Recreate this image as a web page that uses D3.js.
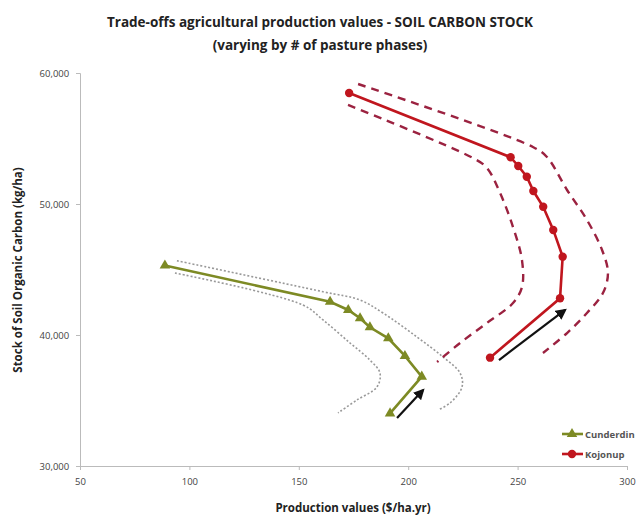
<!DOCTYPE html>
<html><head><meta charset="utf-8">
<script src="https://cdn.jsdelivr.net/npm/d3@7"></script>
<style>body{margin:0;background:#fff}svg{display:block}</style>
</head><body>
<script>
// ---- data ----
const seriesNames = ["Cunderdin", "Kojonup"];
const cunderdinX = [88.8, 164.3, 172.6, 178.0, 182.5, 190.9, 198.5, 206.2, 191.7];
const cunderdinY = [45300, 42540, 41910, 41280, 40590, 39750, 38400, 36820, 34020];
const kojonupX = [173, 246.8, 250.3, 254.2, 257.2, 261.7, 266.3, 270.6, 269.4, 237.4];
const kojonupY = [58470, 53570, 52900, 52080, 50990, 49790, 48020, 45980, 42800, 38270];
// hand-drawn range annotations
const kojOuterX = [177.1, 257.0, 263.4, 272.6, 281.7, 288.6, 291.3, 289.0, 281.7, 272.6, 261.6];
const kojOuterY = [59160, 54350, 53590, 51070, 48780, 46490, 44730, 43200, 41680, 40150, 38630];
const kojInnerX = [172.5, 229.6, 236.0, 242.0, 247.9, 252.0, 252.0, 247.9, 236.0, 223.7, 213.2];
const kojInnerY = [57560, 53510, 52750, 50840, 48240, 45720, 43660, 42440, 40920, 39390, 37940];
const cunOuterX = [94.3, 161.1, 178.0, 188.5, 204.0, 215.9, 223.7, 224.6, 219.1, 213.6];
const cunOuterY = [45670, 43300, 42670, 41680, 39850, 38320, 37100, 36030, 34810, 34280];
const cunInnerX = [93.4, 151.9, 161.1, 173.4, 182.5, 187.1, 185.7, 176.6, 167.9];
const cunInnerY = [44730, 42290, 41150, 39390, 38090, 37100, 36030, 35040, 34050];
const arrowCun = [[194.9, 33660], [206.8, 35800]];
const arrowKoj = [[241.5, 38090], [271.7, 41910]];
const xTicks = [50, 100, 150, 200, 250, 300];
const yTicks = [30000, 40000, 50000, 60000];

const W = 640, H = 524;
const svg = d3.select("body").append("svg").attr("width", W).attr("height", H);
const FONT = "'Open Sans', sans-serif";

const x = d3.scaleLinear().domain([50, 300]).range([80, 627]);
const y = d3.scaleLinear().domain([30000, 60000]).range([466, 73]);

// titles
svg.append("text").attr("x", 320).attr("y", 27).attr("text-anchor", "middle")
  .attr("font-family", FONT).attr("font-weight", "bold").attr("font-size", 13.5).attr("fill", "#222")
  .text("Trade-offs agricultural production values - SOIL CARBON STOCK");
svg.append("text").attr("x", 320).attr("y", 50).attr("text-anchor", "middle")
  .attr("font-family", FONT).attr("font-weight", "bold").attr("font-size", 13.5).attr("fill", "#222")
  .text("(varying by # of pasture phases)");

// axes
const xAxis = svg.append("g").attr("transform", `translate(0,${y(30000)})`)
  .call(d3.axisBottom(x).tickValues(xTicks).tickSize(4).tickFormat(d3.format("d")));
const yAxis = svg.append("g").attr("transform", `translate(${x(50)},0)`)
  .call(d3.axisLeft(y).tickValues(yTicks).tickSize(4).tickFormat(d3.format(",")));
[xAxis, yAxis].forEach(g => {
  g.select(".domain").attr("stroke", "#bbb");
  g.selectAll(".tick line").attr("stroke", "#bbb");
  g.selectAll(".tick text").attr("font-family", FONT).attr("font-size", 9.5).attr("fill", "#444");
});
xAxis.selectAll(".tick text").attr("dy", "1.3em");
yAxis.selectAll(".tick text").attr("dx", "-0.4em");

svg.append("text").attr("x", 353).attr("y", 512).attr("text-anchor", "middle")
  .attr("font-family", FONT).attr("font-weight", "bold").attr("font-size", 11.5).attr("fill", "#222")
  .text("Production values ($/ha.yr)");
svg.append("text").attr("transform", "translate(22,270) rotate(-90)").attr("text-anchor", "middle")
  .attr("font-family", FONT).attr("font-weight", "bold").attr("font-size", 11.5).attr("fill", "#222")
  .text("Stock of Soil Organic Carbon  (kg/ha)");

const zip = (a, b) => a.map((v, i) => [v, b[i]]);
const smooth = d3.line().x(d => x(d[0])).y(d => y(d[1])).curve(d3.curveCatmullRom.alpha(0.5));
const straight = d3.line().x(d => x(d[0])).y(d => y(d[1]));

// annotation bands
svg.append("path").attr("d", smooth(zip(cunOuterX, cunOuterY))).attr("fill", "none")
  .attr("stroke", "#999").attr("stroke-width", 1.6).attr("stroke-dasharray", "2,2");
svg.append("path").attr("d", smooth(zip(cunInnerX, cunInnerY))).attr("fill", "none")
  .attr("stroke", "#999").attr("stroke-width", 1.6).attr("stroke-dasharray", "2,2");
svg.append("path").attr("d", smooth(zip(kojOuterX, kojOuterY))).attr("fill", "none")
  .attr("stroke", "#9b2240").attr("stroke-width", 2.4).attr("stroke-dasharray", "8,6");
svg.append("path").attr("d", smooth(zip(kojInnerX, kojInnerY))).attr("fill", "none")
  .attr("stroke", "#9b2240").attr("stroke-width", 2.4).attr("stroke-dasharray", "8,6");

// series
const cunColor = "#7d8a24", kojColor = "#c0161e";
const cun = zip(cunderdinX, cunderdinY), koj = zip(kojonupX, kojonupY);
svg.append("path").attr("d", straight(cun)).attr("fill", "none").attr("stroke", cunColor).attr("stroke-width", 2.6);
const tri = d3.symbol().type(d3.symbolTriangle).size(48);
svg.selectAll(".cm").data(cun).enter().append("path")
  .attr("transform", d => `translate(${x(d[0])},${y(d[1])})`).attr("d", tri).attr("fill", cunColor);
svg.append("path").attr("d", straight(koj)).attr("fill", "none").attr("stroke", kojColor).attr("stroke-width", 2.6);
svg.selectAll(".km").data(koj).enter().append("circle")
  .attr("cx", d => x(d[0])).attr("cy", d => y(d[1])).attr("r", 4.2).attr("fill", kojColor);

// arrows
svg.append("defs").append("marker").attr("id", "ah").attr("viewBox", "0 0 10 10")
  .attr("refX", 8).attr("refY", 5).attr("markerWidth", 5).attr("markerHeight", 5).attr("orient", "auto")
  .append("path").attr("d", "M0,0L10,5L0,10z").attr("fill", "#111");
[arrowCun, arrowKoj].forEach(a => {
  svg.append("path").attr("d", straight(a)).attr("stroke", "#111").attr("stroke-width", 2.2)
    .attr("fill", "none").attr("marker-end", "url(#ah)");
});

// legend
const legY = [434, 454];
seriesNames.forEach((n, i) => {
  const c = i === 0 ? cunColor : kojColor;
  svg.append("line").attr("x1", 562).attr("x2", 583).attr("y1", legY[i]).attr("y2", legY[i])
    .attr("stroke", c).attr("stroke-width", 2.6);
  if (i === 0) svg.append("path").attr("transform", `translate(572,${legY[i]})`).attr("d", tri).attr("fill", c);
  else svg.append("circle").attr("cx", 572).attr("cy", legY[i]).attr("r", 4.2).attr("fill", c);
  svg.append("text").attr("x", 585).attr("y", legY[i] + 3.5).attr("font-family", FONT)
    .attr("font-size", 9.5).attr("font-weight", "bold").attr("fill", "#555").text(n);
});
</script>
</body></html>
